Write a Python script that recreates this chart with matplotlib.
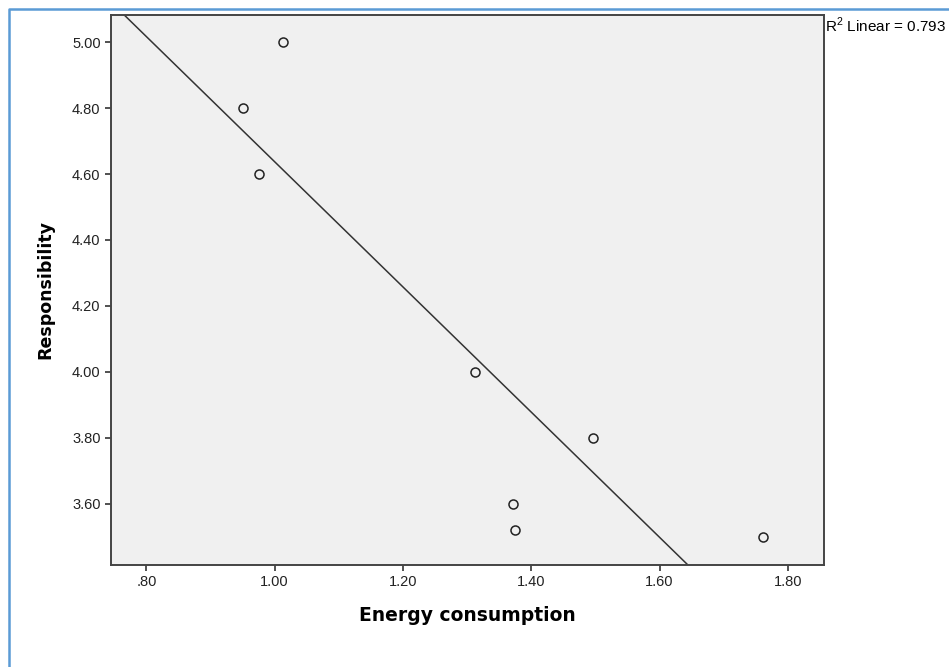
import matplotlib.pyplot as plt
import numpy as np
from matplotlib.lines import Line2D

# Data
energy = [1.0125, 0.95, 0.975, 1.3125, 1.497, 1.372, 1.375, 1.761]
responsibility = [5.00, 4.80, 4.60, 4.00, 3.80, 3.60, 3.52, 3.50]
x_ticks = [0.8, 1.0, 1.2, 1.4, 1.6, 1.8]
x_tick_labels = ['.80', '1.00', '1.20', '1.40', '1.60', '1.80']
y_ticks = [3.6, 3.8, 4.0, 4.2, 4.4, 4.6, 4.8, 5.0]
y_tick_labels = ['3.60', '3.80', '4.00', '4.20', '4.40', '4.60', '4.80', '5.00']
r2_text = 'R$^2$ Linear = 0.793'

plt.rcParams['font.family'] = ['Liberation Sans', 'DejaVu Sans']
plt.rcParams['mathtext.fontset'] = 'custom'
plt.rcParams['mathtext.rm'] = 'Liberation Sans'

fig = plt.figure(figsize=(9.49, 6.67), dpi=100)
ax = fig.add_axes([0.117, 0.153, 0.751, 0.8245])
ax.set_facecolor('#f0f0f0')

x = np.array(energy)
y = np.array(responsibility)
ax.plot(x, y, 'o', ms=6.5, mfc='none', mec='#222222', mew=1.1, zorder=3)

# least squares fit line
slope, intercept = np.polyfit(x, y, 1)
xx = np.array([0.6, 2.0])
ax.plot(xx, slope * xx + intercept, color='#333333', lw=1.1)

ax.set_xlim(0.745, 1.856)
ax.set_ylim(3.415, 5.082)
ax.set_xticks(x_ticks)
ax.set_xticklabels(x_tick_labels)
ax.set_yticks(y_ticks)
ax.set_yticklabels(y_tick_labels)
ax.tick_params(direction='out', length=4, width=1.2, color='#333333',
               labelsize=10.5, labelcolor='#222222')

for s in ax.spines.values():
    s.set_color('#444444')
    s.set_linewidth(1.4)

ax.set_xlabel('Energy consumption', fontsize=13.5, fontweight='bold',
              labelpad=12, family='DejaVu Sans')
ax.set_ylabel('Responsibility', fontsize=12.5, fontweight='bold',
              labelpad=13, family='DejaVu Sans')

# kept just inside the right edge
fig.text(0.8695, 0.962, r2_text, fontsize=11, ha='left', va='center')

# blue frame around the chart
fig.add_artist(Line2D([9 / 949, 9 / 949, 1.0], [0.0, 1 - 9 / 667, 1 - 9 / 667],
                      transform=fig.transFigure, color='#5b9bd5', lw=1.8))

fig.savefig('out.png', dpi=100)
